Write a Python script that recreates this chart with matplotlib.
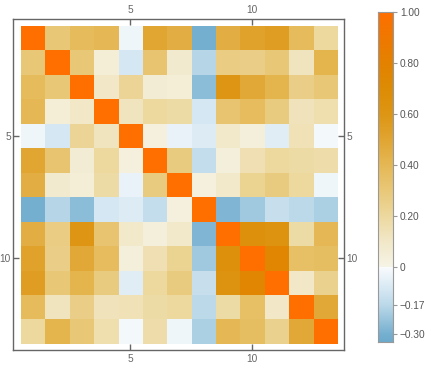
import numpy as np
import matplotlib
matplotlib.use("Agg")
import matplotlib.pyplot as plt
from matplotlib.colors import LinearSegmentedColormap, Normalize

# ---- data: 13x13 correlation matrix ----
corr = [
    [1.00, 0.30, 0.38, 0.40, -0.03, 0.50, 0.45, -0.30, 0.45, 0.52, 0.55, 0.38, 0.20],
    [0.30, 1.00, 0.30, 0.05, -0.10, 0.32, 0.08, -0.18, 0.27, 0.26, 0.30, 0.12, 0.42],
    [0.38, 0.30, 1.00, 0.10, 0.22, 0.06, 0.05, -0.26, 0.60, 0.48, 0.42, 0.26, 0.30],
    [0.40, 0.05, 0.10, 1.00, 0.12, 0.20, 0.18, -0.10, 0.32, 0.37, 0.28, 0.13, 0.16],
    [-0.03, -0.10, 0.22, 0.12, 1.00, 0.03, -0.05, -0.08, 0.09, 0.04, -0.07, 0.14, -0.02],
    [0.50, 0.32, 0.06, 0.20, 0.03, 1.00, 0.28, -0.15, 0.04, 0.15, 0.20, 0.18, 0.17],
    [0.45, 0.08, 0.05, 0.18, -0.05, 0.28, 1.00, 0.03, 0.09, 0.23, 0.28, 0.20, -0.03],
    [-0.30, -0.18, -0.26, -0.10, -0.08, -0.15, 0.03, 1.00, -0.28, -0.22, -0.14, -0.17, -0.20],
    [0.45, 0.27, 0.60, 0.32, 0.09, 0.04, 0.09, -0.28, 1.00, 0.65, 0.62, 0.18, 0.40],
    [0.52, 0.26, 0.48, 0.37, 0.04, 0.15, 0.23, -0.22, 0.65, 1.00, 0.75, 0.35, 0.36],
    [0.55, 0.30, 0.42, 0.28, -0.07, 0.20, 0.28, -0.14, 0.62, 0.75, 1.00, 0.10, 0.24],
    [0.38, 0.12, 0.26, 0.13, 0.14, 0.18, 0.20, -0.17, 0.18, 0.35, 0.10, 1.00, 0.48],
    [0.20, 0.42, 0.30, 0.16, -0.02, 0.17, -0.03, -0.20, 0.40, 0.36, 0.24, 0.48, 1.00],
]
axis_ticks = [5, 10]
cbar_ticks = [1.00, 0.80, 0.60, 0.40, 0.20, 0.0, -0.17, -0.30]
cbar_labels = ["1.00", "0.80", "0.60", "0.40", "0.20", "0", "\u22120.17", "\u22120.30"]

# ---- colour scale ----
vmin, vmax = -0.335, 1.0
stops = [
    (-0.335, (108, 170, 204)),
    (-0.30, (118, 176, 208)),
    (-0.17, (188, 217, 234)),
    (-0.002, (250, 252, 254)),
    (0.0, (246, 244, 230)),
    (0.1, (242, 232, 200)),
    (0.2, (237, 216, 158)),
    (0.3, (233, 200, 120)),
    (0.4, (229, 184, 85)),
    (0.5, (225, 165, 50)),
    (0.6, (221, 150, 20)),
    (0.7, (221, 140, 5)),
    (0.8, (228, 130, 0)),
    (0.9, (240, 120, 0)),
    (1.0, (255, 111, 0)),
]
cmap = LinearSegmentedColormap.from_list(
    "mma", [((v - vmin) / (vmax - vmin), tuple(c / 255 for c in rgb)) for v, rgb in stops], N=2048)
norm = Normalize(vmin=vmin, vmax=vmax)

W, H = 430, 372
fig = plt.figure(figsize=(W / 100, H / 100), dpi=100)
tc = "#666666"
fs = 7.3
fam = "Liberation Sans"

# ---- matrix ----
ax = fig.add_axes([13 / W, 1 - 350 / H, 331 / W, 331 / H])
M = np.array(corr)
n = M.shape[0]
ax.imshow(M, cmap=cmap, norm=norm, interpolation="nearest",
          extent=(0.5, n + 0.5, n + 0.5, 0.5), aspect="auto")
ax.set_xlim(0.18, n + 0.76)
ax.set_ylim(n + 0.76, 0.2)
for s in ax.spines.values():
    s.set_color(tc)
    s.set_linewidth(1.0)
ax.set_xticks(axis_ticks)
ax.set_yticks(axis_ticks)
ax.tick_params(direction="in", length=4, width=1, color=tc, labelcolor=tc,
               labelsize=fs, top=True, right=True, labeltop=True, labelright=True, pad=3)
ax.tick_params(axis="y", which="both", pad=1.5)
for lab in ax.get_xticklabels() + ax.get_yticklabels():
    lab.set_family(fam)

# ---- colour bar (piecewise-linear position scale as in reference) ----
neg_scale = 0.882


def pos(v):
    return v if v >= 0 else v * neg_scale


cax = fig.add_axes([378 / W, 1 - 342 / H, 15 / W, 330 / H])
pbot = pos(vmin)
p = np.linspace(pbot, 1.0, 1200)
vals = np.where(p >= 0, p, p / neg_scale)
cax.imshow(vals[::-1, None], cmap=cmap, norm=norm, aspect="auto",
           extent=(0, 1, pbot, 1.0), interpolation="nearest")
cax.set_xlim(0, 1)
cax.set_ylim(pbot, 1.0)
cax.set_xticks([])
cax.yaxis.tick_right()
cax.set_yticks([pos(v) for v in cbar_ticks])
cax.set_yticklabels(cbar_labels, family=fam)
cax.tick_params(axis="y", direction="out", length=3, width=0.8, color="#999999",
                labelcolor="#555555", labelsize=fs, pad=2)
for s in cax.spines.values():
    s.set_color("#999999")
    s.set_linewidth(0.8)

fig.savefig("out.png", dpi=100)
